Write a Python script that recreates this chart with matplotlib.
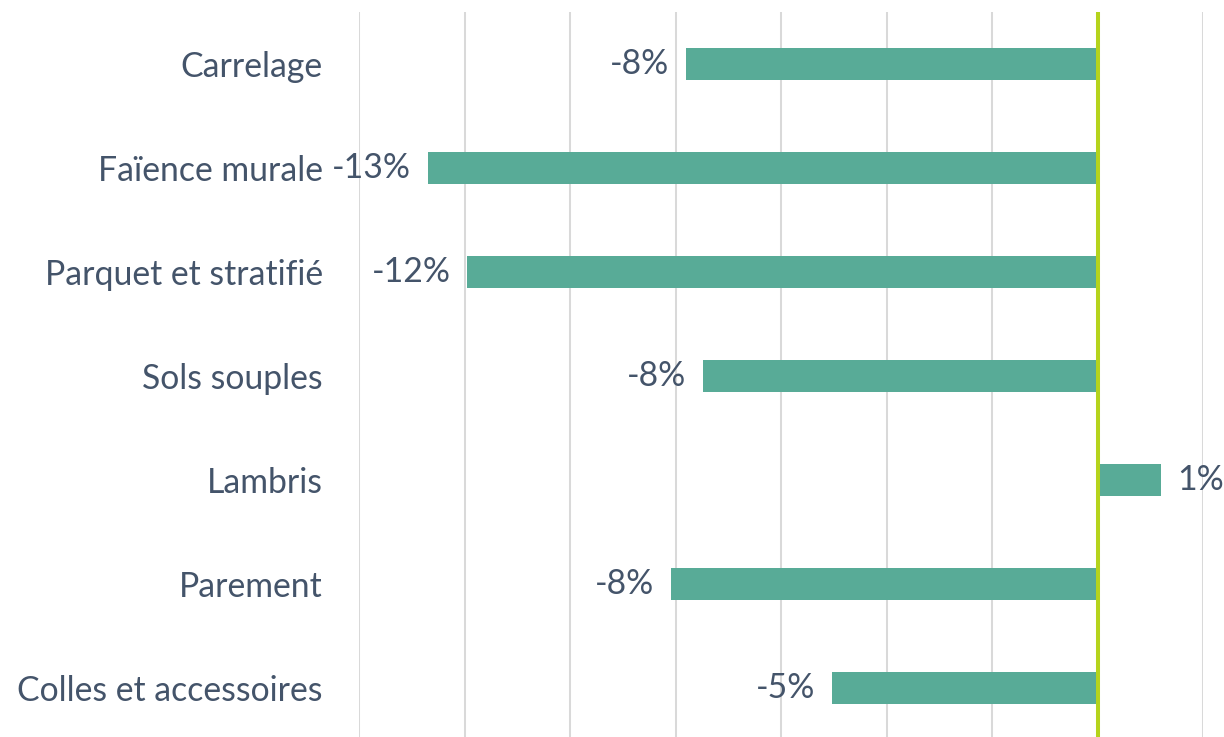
import matplotlib
matplotlib.use("Agg")
import matplotlib.pyplot as plt

categories = ["Carrelage", "Faïence murale", "Parquet et stratifié", "Sols souples",
              "Lambris", "Parement", "Colles et accessoires"]
values = [-0.078, -0.127, -0.1195, -0.0748, 0.012, -0.0808, -0.0503]
labels = ["-8%", "-13%", "-12%", "-8%", "1%", "-8%", "-5%"]

BAR = "#58AB97"
TXT = "#44546A"
ZERO = "#B5D31C"
GRID = "#D9D9D9"

plt.rcParams['font.family'] = ['Lato', 'DejaVu Sans']

W, H = 1224, 737
fig = plt.figure(figsize=(W / 100, H / 100), dpi=100)
ax = fig.add_axes([359 / W, (H - 740) / H, (1203 - 359) / W, (740 - 12) / H])

y = list(range(len(categories)))
ax.barh(y, values, height=0.315, color=BAR, zorder=2)
ax.set_ylim(len(categories) - 0.5, -0.5)
ax.set_xlim(-0.14, 0.02)
ax.set_xticks([-0.14 + 0.02 * i for i in range(9)])
ax.set_xticklabels([])
ax.tick_params(axis='x', length=0)
ax.grid(axis='x', color=GRID, linewidth=1.45, zorder=0)
ax.axvline(0, color=ZERO, linewidth=2.9, zorder=3)
for s in ax.spines.values():
    s.set_visible(False)

ax.set_yticks(y)
ax.set_yticklabels(categories, fontsize=24.3, color=TXT)
ax.tick_params(axis='y', length=0, pad=26)

for yi, v, lab in zip(y, values, labels):
    if v < 0:
        ax.annotate(lab, (v, yi), xytext=(-12, 0), textcoords='offset points',
                    ha='right', va='center', fontsize=24.3, color=TXT, zorder=4)
    else:
        ax.annotate(lab, (v, yi), xytext=(12, 0), textcoords='offset points',
                    ha='left', va='center', fontsize=24.3, color=TXT, zorder=4)

fig.savefig("out.png", dpi=100)
